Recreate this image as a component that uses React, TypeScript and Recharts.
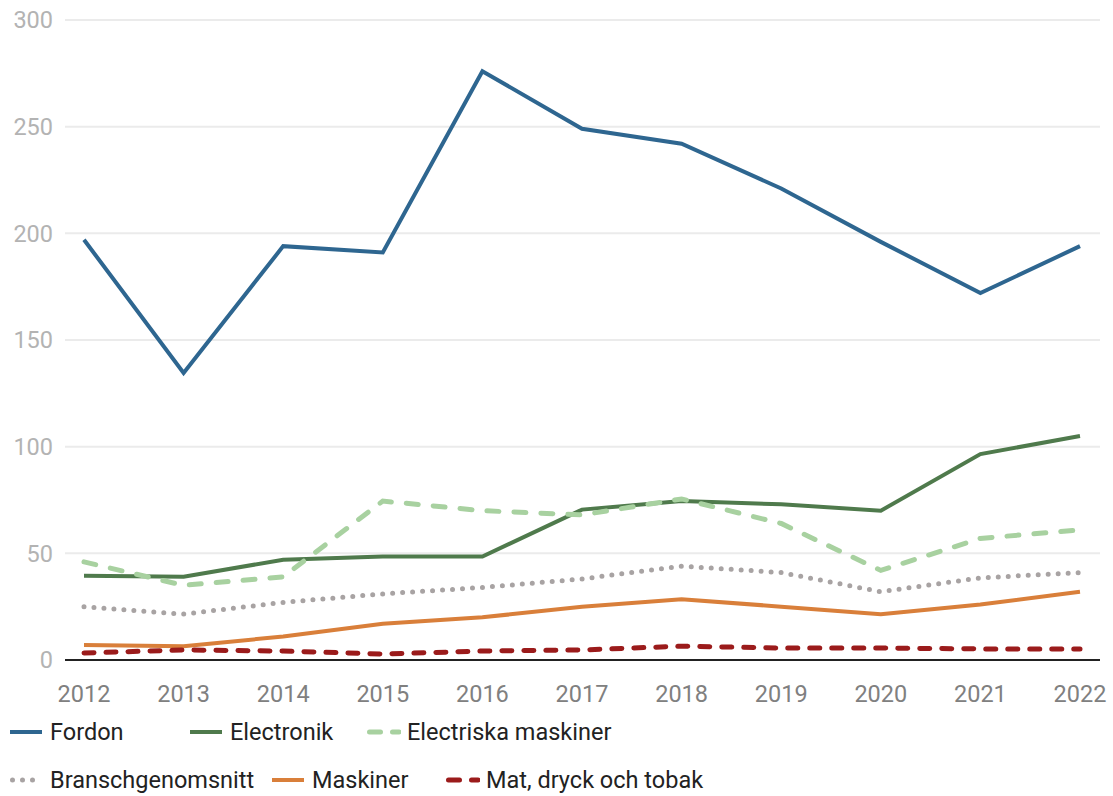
import React from 'react';
import { LineChart, Line, XAxis, YAxis, CartesianGrid, Legend } from 'recharts';

const years = ['2012', '2013', '2014', '2015', '2016', '2017', '2018', '2019', '2020', '2021', '2022'];
const fordon = [197, 134.5, 194, 191, 276, 249, 242, 221, 196, 172, 194];
const electronik = [39.5, 39, 47, 48.5, 48.5, 70.5, 74.5, 73, 70, 96.5, 105];
const electriskaMaskiner = [46, 35, 39, 74.5, 70, 68, 75.5, 64, 42, 57, 61];
const branschgenomsnitt = [25, 21.5, 27, 31, 34, 38, 44, 41, 32, 38.5, 41];
const maskiner = [7, 6.5, 11, 17, 20, 25, 28.5, 25, 21.5, 26, 32];
const matDryckTobak = [3.3, 4.7, 4.2, 2.8, 4.2, 4.7, 6.5, 5.6, 5.6, 5.2, 5.2];
const yTicks = [0, 50, 100, 150, 200, 250, 300];

const data = years.map((year, i) => ({
  year,
  fordon: fordon[i],
  electronik: electronik[i],
  electriska: electriskaMaskiner[i],
  bransch: branschgenomsnitt[i],
  maskiner: maskiner[i],
  mat: matDryckTobak[i],
}));

const series = [
  { key: 'fordon', name: 'Fordon', color: '#2e6690', dash: undefined, width: 4 },
  { key: 'electronik', name: 'Electronik', color: '#4f7a4c', dash: undefined, width: 4 },
  { key: 'electriska', name: 'Electriska maskiner', color: '#a8d1a0', dash: '12 15', width: 5 },
  { key: 'bransch', name: 'Branschgenomsnitt', color: '#a8a3a3', dash: '0 10', width: 5 },
  { key: 'maskiner', name: 'Maskiner', color: '#d97f3a', dash: undefined, width: 4 },
  { key: 'mat', name: 'Mat, dryck och tobak', color: '#9b1b1b', dash: '10 12', width: 5 },
];

// legend rows: which series go where, and how wide each slot is
const legendRows = [
  [{ i: 0, w: 180 }, { i: 1, w: 177 }, { i: 2, w: 0 }],
  [{ i: 3, w: 262 }, { i: 4, w: 174 }, { i: 5, w: 0 }],
];

const iconDash: Record<string, string | undefined> = {
  electriska: '11 12',
  bransch: '0 10',
  mat: '11 12',
};

const ChartLegend = () => (
  <div style={{ height: 88, paddingLeft: 10, fontFamily: 'Roboto', fontSize: 23.5, color: '#222' }}>
    {legendRows.map((row, r) => (
      <div key={r} style={{ display: 'flex', alignItems: 'center', height: 48 }}>
        {row.map(({ i, w }) => {
          const s = series[i];
          return (
            <div key={s.key} style={{ display: 'flex', alignItems: 'center', width: w || undefined, whiteSpace: 'nowrap' }}>
              <svg width={34} height={8} style={{ marginRight: 6 }}>
                <line
                  x1={s.dash ? 2.5 : 0}
                  y1={4}
                  x2={32}
                  y2={4}
                  stroke={s.color}
                  strokeWidth={s.dash ? 5 : 4}
                  strokeDasharray={iconDash[s.key]}
                  strokeLinecap={s.dash ? 'round' : 'butt'}
                />
              </svg>
              <span>{s.name}</span>
            </div>
          );
        })}
      </div>
    ))}
  </div>
);

export default function App() {
  return (
    <div style={{ position: 'absolute', left: 0, top: 0 }}>
      <LineChart width={1113} height={796} data={data} margin={{ top: 20, right: 13, left: 0, bottom: 0 }}>
        <CartesianGrid vertical={false} stroke="#ebebeb" strokeWidth={2} />
        <XAxis
          dataKey="year"
          height={48}
          padding={{ left: 19, right: 20 }}
          tickLine={false}
          tickSize={0}
          tickMargin={25}
          axisLine={{ stroke: '#222', strokeWidth: 2 }}
          tick={{ fill: '#808080', fontSize: 23.5, fontFamily: 'Roboto' }}
          interval={0}
        />
        <YAxis
          width={65}
          domain={[0, 300]}
          ticks={yTicks}
          axisLine={false}
          tickLine={false}
          tickSize={0}
          tickMargin={12}
          tick={{ fill: '#b3b3b3', fontSize: 23.5, fontFamily: 'Roboto' }}
        />
        <Legend verticalAlign="bottom" align="left" content={() => <ChartLegend />} />
        {series.map((s) => (
          <Line
            key={s.key}
            dataKey={s.key}
            name={s.name}
            stroke={s.color}
            strokeWidth={s.width}
            strokeDasharray={s.dash}
            strokeLinecap={s.dash ? 'round' : 'butt'}
            dot={false}
            activeDot={false}
            isAnimationActive={false}
            type="linear"
          />
        ))}
      </LineChart>
    </div>
  );
}
